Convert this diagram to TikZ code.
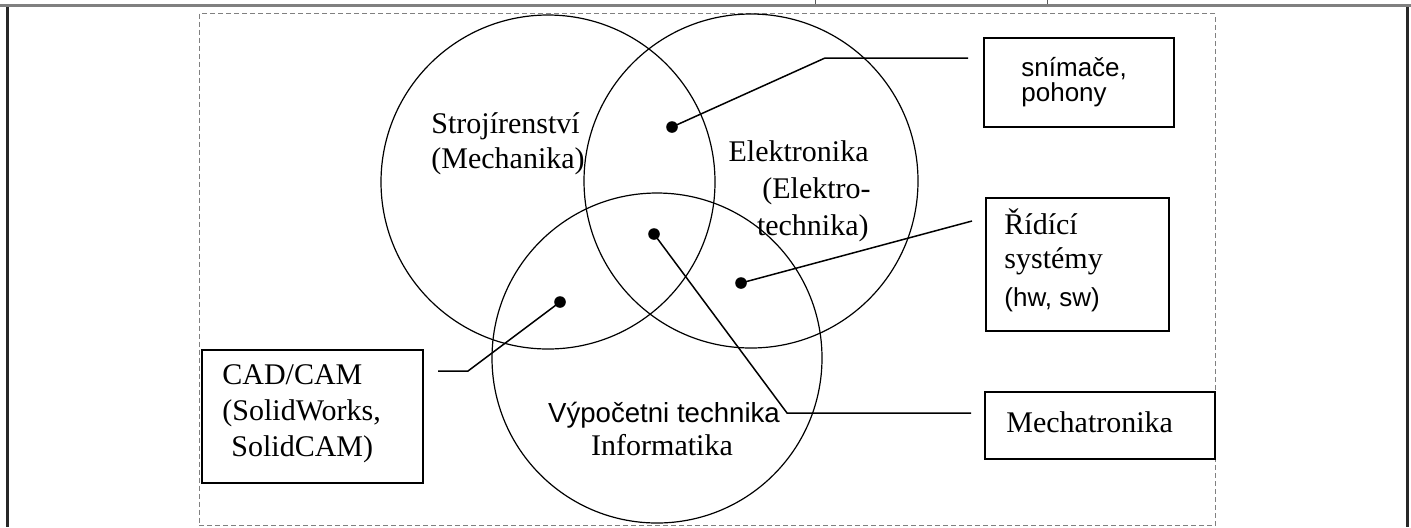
\documentclass[tikz,border=0pt]{standalone}
\usepackage{fontspec}
\setmainfont{Liberation Serif}
\newfontfamily\arialf{Liberation Sans}
\begin{document}
\begin{tikzpicture}[x=0.5pt,y=-0.5pt,
  circ/.style={circle, draw=black, line width=0.6pt, inner sep=0, minimum size=#1},
  box/.style={draw=black, line width=0.9pt, inner sep=0, anchor=north west},
  dotn/.style={circle, fill=black, inner sep=0, minimum size=5.8pt},
  conn/.style={draw=black, line width=0.75pt},
  serif/.style={font=\fontsize{15}{18}\selectfont, inner sep=0},
  sans/.style={font=\arialf\fontsize{13}{16}\selectfont, inner sep=0},
  frameline/.style={line width=1.5pt}
]
\useasboundingbox (0,0) rectangle (1411,527);
% outer frame fragments
\draw[frameline, draw={rgb,255:red,128;green,128;blue,128}] (0,5.5) -- (1411,5.5);
\draw[frameline, draw={rgb,255:red,40;green,40;blue,40}] (7.5,7) -- (7.5,527);
\draw[frameline, draw={rgb,255:red,40;green,40;blue,40}] (1407,7) -- (1407,527);
\draw[line width=0.5pt, draw={rgb,255:red,90;green,90;blue,90}] (815,0) -- (815,4);
\draw[line width=0.5pt, draw={rgb,255:red,90;green,90;blue,90}] (1047,0) -- (1047,4);
% dashed frame
\draw[draw={rgb,255:red,128;green,128;blue,128}, line width=0.5pt, dash pattern=on 2.5pt off 1.5pt] (199,13.5) rectangle (1215,525.5);

% circles
\node[circ=167pt] (c1) at (548,182) {};
\node[circ=167pt] (c2) at (751,181) {};
\node[circ=165pt] (c3) at (657,358) {};

% circle labels
\node[serif, anchor=base west] (stroj1) at (431,133) {Strojírenství};
\node[serif, anchor=base west] (stroj2) at (431,168) {(Mechanika)};
\node[serif, anchor=base east] (el1) at (869,161) {Elektronika};
\node[serif, anchor=base west] (el2) at (762,198) {(Elektro-};
\node[serif, anchor=base east] (el3) at (869,235) {technika)};
\node[sans, font=\arialf\fontsize{13.8}{16}\selectfont, anchor=base] (vyp1) at (664,422) {Výpočetni technika};
\node[serif, anchor=base] (vyp2) at (662,455) {Informatika};

% boxes
\node[box, minimum width=95pt, minimum height=44.5pt] (snim) at (983,37) {};
\node[box, minimum width=91.5pt, minimum height=66.5pt] (rid) at (985,197) {};
\node[box, minimum width=115pt, minimum height=33.5pt] (mech) at (984,391) {};
\node[box, minimum width=110.5pt, minimum height=66.5pt] (cad) at (201,349) {};

% box texts
\node[sans, anchor=base west] (snimt1) at (1021,76) {snímače,};
\node[sans, anchor=base west] (snimt2) at (1021,101) {pohony};
\node[serif, anchor=base west] (ridt1) at (1004,234) {Řídící};
\node[serif, anchor=base west] (ridt2) at (1004,268) {systémy};
\node[sans, anchor=base west] (ridt3) at (1004,306) {(hw, sw)};
\node[serif, anchor=base west] (mecht) at (1006,432) {Mechatronika};
\node[serif, anchor=base west] (cadt1) at (222,384) {CAD/CAM};
\node[serif, anchor=base west] (cadt2) at (222,420) {(SolidWorks,};
\node[serif, anchor=base west] (cadt3) at (231,456) {SolidCAM)};

% dots
\node[dotn] (d1) at (672,127) {};
\node[dotn] (d2) at (654,234) {};
\node[dotn] (d3) at (741,283) {};
\node[dotn] (d4) at (560,302) {};

% connector bends and free ends
\coordinate (b1) at (825,58);
\coordinate (e1) at (968,58);
\coordinate (e3) at (972,221);
\coordinate (b2) at (787,413);
\coordinate (e2) at (971,413);
\coordinate (b4) at (468,371);
\coordinate (e4) at (438,371);

\draw[conn] (d1.center) -- (b1) -- (e1);
\draw[conn] (d3.center) -- (e3);
\draw[conn] (d2.center) -- (b2) -- (e2);
\draw[conn] (d4.center) -- (b4) -- (e4);
\end{tikzpicture}
\end{document}
